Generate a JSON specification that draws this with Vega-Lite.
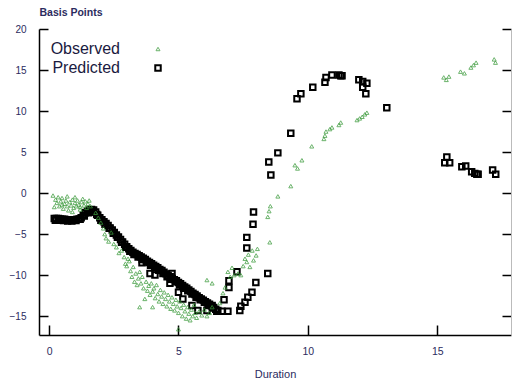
{
  "$schema": "https://vega.github.io/schema/vega-lite/v6.json",
  "width": 472,
  "height": 306,
  "autosize": "none",
  "padding": {"left": 39, "top": 29, "right": 1, "bottom": 45},
  "config": {"view": {"stroke": null}, "font": "Liberation Sans"},
  "datasets": {
    "pts": [
      {"x":0.2,"y":-3.1,"s":"Predicted"},{"x":0.28,"y":-3.1,"s":"Predicted"},{"x":0.36,"y":-3.1,"s":"Predicted"},{"x":0.44,"y":-3.15,"s":"Predicted"},{"x":0.52,"y":-3.2,"s":"Predicted"},{"x":0.6,"y":-3.2,"s":"Predicted"},{"x":0.68,"y":-3.25,"s":"Predicted"},{"x":0.76,"y":-3.25,"s":"Predicted"},{"x":0.84,"y":-3.25,"s":"Predicted"},{"x":0.92,"y":-3.25,"s":"Predicted"},{"x":1.0,"y":-3.25,"s":"Predicted"},{"x":1.08,"y":-3.2,"s":"Predicted"},{"x":1.16,"y":-3.15,"s":"Predicted"},
      {"x":1.24,"y":-3.0,"s":"Predicted"},{"x":1.32,"y":-2.7,"s":"Predicted"},{"x":1.4,"y":-2.4,"s":"Predicted"},{"x":1.48,"y":-2.2,"s":"Predicted"},{"x":1.56,"y":-2.05,"s":"Predicted"},{"x":1.64,"y":-2.0,"s":"Predicted"},{"x":1.72,"y":-2.05,"s":"Predicted"},{"x":1.8,"y":-2.3,"s":"Predicted"},
      {"x":1.88,"y":-2.7,"s":"Predicted"},{"x":1.96,"y":-3.0,"s":"Predicted"},{"x":2.04,"y":-3.25,"s":"Predicted"},{"x":2.12,"y":-3.5,"s":"Predicted"},{"x":2.2,"y":-3.7,"s":"Predicted"},{"x":2.28,"y":-3.95,"s":"Predicted"},{"x":2.36,"y":-4.25,"s":"Predicted"},{"x":2.44,"y":-4.5,"s":"Predicted"},{"x":2.52,"y":-4.8,"s":"Predicted"},{"x":2.6,"y":-5.1,"s":"Predicted"},{"x":2.68,"y":-5.35,"s":"Predicted"},{"x":2.76,"y":-5.65,"s":"Predicted"},{"x":2.84,"y":-5.95,"s":"Predicted"},{"x":2.92,"y":-6.25,"s":"Predicted"},{"x":3.0,"y":-6.55,"s":"Predicted"},{"x":3.08,"y":-6.8,"s":"Predicted"},{"x":3.16,"y":-7.0,"s":"Predicted"},{"x":3.24,"y":-7.2,"s":"Predicted"},{"x":3.32,"y":-7.35,"s":"Predicted"},{"x":3.4,"y":-7.5,"s":"Predicted"},{"x":3.48,"y":-7.65,"s":"Predicted"},{"x":3.56,"y":-7.8,"s":"Predicted"},{"x":3.64,"y":-7.95,"s":"Predicted"},{"x":3.72,"y":-8.1,"s":"Predicted"},{"x":3.8,"y":-8.3,"s":"Predicted"},{"x":3.88,"y":-8.45,"s":"Predicted"},{"x":3.96,"y":-8.6,"s":"Predicted"},{"x":4.04,"y":-8.8,"s":"Predicted"},{"x":4.12,"y":-8.95,"s":"Predicted"},{"x":4.2,"y":-9.1,"s":"Predicted"},{"x":4.28,"y":-9.3,"s":"Predicted"},{"x":4.36,"y":-9.45,"s":"Predicted"},{"x":4.44,"y":-9.65,"s":"Predicted"},{"x":4.52,"y":-9.85,"s":"Predicted"},{"x":4.6,"y":-10.05,"s":"Predicted"},{"x":4.68,"y":-10.2,"s":"Predicted"},{"x":4.76,"y":-10.4,"s":"Predicted"},{"x":4.84,"y":-10.55,"s":"Predicted"},{"x":4.92,"y":-10.7,"s":"Predicted"},{"x":5.0,"y":-10.9,"s":"Predicted"},{"x":5.08,"y":-11.05,"s":"Predicted"},{"x":5.16,"y":-11.25,"s":"Predicted"},{"x":5.24,"y":-11.45,"s":"Predicted"},{"x":5.32,"y":-11.6,"s":"Predicted"},{"x":5.4,"y":-11.8,"s":"Predicted"},{"x":5.48,"y":-12.0,"s":"Predicted"},{"x":5.56,"y":-12.2,"s":"Predicted"},{"x":5.64,"y":-12.35,"s":"Predicted"},{"x":5.72,"y":-12.55,"s":"Predicted"},{"x":5.8,"y":-12.75,"s":"Predicted"},{"x":5.88,"y":-12.9,"s":"Predicted"},{"x":5.96,"y":-13.05,"s":"Predicted"},{"x":6.04,"y":-13.25,"s":"Predicted"},{"x":6.12,"y":-13.4,"s":"Predicted"},{"x":6.2,"y":-13.55,"s":"Predicted"},{"x":6.28,"y":-13.75,"s":"Predicted"},{"x":6.36,"y":-13.95,"s":"Predicted"},{"x":6.44,"y":-14.15,"s":"Predicted"},{"x":6.52,"y":-14.3,"s":"Predicted"},
      {"x":0.24,"y":-3.3,"s":"Predicted"},{"x":0.4,"y":-3.3,"s":"Predicted"},{"x":0.56,"y":-3.35,"s":"Predicted"},{"x":0.72,"y":-3.4,"s":"Predicted"},{"x":0.88,"y":-3.4,"s":"Predicted"},{"x":1.04,"y":-3.35,"s":"Predicted"},{"x":1.2,"y":-3.2,"s":"Predicted"},{"x":1.36,"y":-2.8,"s":"Predicted"},{"x":1.52,"y":-2.4,"s":"Predicted"},{"x":1.68,"y":-2.3,"s":"Predicted"},{"x":1.84,"y":-2.6,"s":"Predicted"},{"x":2.0,"y":-3.3,"s":"Predicted"},{"x":2.16,"y":-3.8,"s":"Predicted"},{"x":2.32,"y":-4.3,"s":"Predicted"},{"x":2.48,"y":-4.9,"s":"Predicted"},{"x":2.64,"y":-5.4,"s":"Predicted"},{"x":2.8,"y":-6.0,"s":"Predicted"},{"x":2.96,"y":-6.6,"s":"Predicted"},{"x":3.12,"y":-7.1,"s":"Predicted"},{"x":3.28,"y":-7.5,"s":"Predicted"},{"x":3.44,"y":-7.8,"s":"Predicted"},{"x":3.6,"y":-8.1,"s":"Predicted"},{"x":3.76,"y":-8.4,"s":"Predicted"},{"x":3.92,"y":-8.8,"s":"Predicted"},{"x":4.08,"y":-9.1,"s":"Predicted"},{"x":4.24,"y":-9.4,"s":"Predicted"},{"x":4.4,"y":-9.8,"s":"Predicted"},{"x":4.56,"y":-10.2,"s":"Predicted"},{"x":4.72,"y":-10.5,"s":"Predicted"},{"x":4.88,"y":-10.8,"s":"Predicted"},{"x":5.04,"y":-11.2,"s":"Predicted"},{"x":5.2,"y":-11.6,"s":"Predicted"},{"x":5.36,"y":-11.9,"s":"Predicted"},{"x":5.52,"y":-12.3,"s":"Predicted"},{"x":5.68,"y":-12.7,"s":"Predicted"},{"x":5.84,"y":-13.0,"s":"Predicted"},{"x":6.0,"y":-13.3,"s":"Predicted"},{"x":6.16,"y":-13.7,"s":"Predicted"},{"x":6.32,"y":-14.0,"s":"Predicted"},{"x":6.48,"y":-14.4,"s":"Predicted"},
      {"x":3.59,"y":-8.5,"s":"Predicted"},{"x":3.9,"y":-9.8,"s":"Predicted"},{"x":4.09,"y":-10.0,"s":"Predicted"},{"x":4.75,"y":-9.8,"s":"Predicted"},{"x":4.67,"y":-11.0,"s":"Predicted"},{"x":5.0,"y":-12.1,"s":"Predicted"},{"x":5.17,"y":-12.9,"s":"Predicted"},{"x":5.52,"y":-13.7,"s":"Predicted"},{"x":5.75,"y":-14.3,"s":"Predicted"},{"x":6.1,"y":-14.3,"s":"Predicted"},{"x":6.3,"y":-13.7,"s":"Predicted"},{"x":6.68,"y":-14.4,"s":"Predicted"},{"x":6.91,"y":-14.4,"s":"Predicted"},{"x":6.76,"y":-13.0,"s":"Predicted"},{"x":6.95,"y":-11.5,"s":"Predicted"},{"x":6.95,"y":-10.7,"s":"Predicted"},{"x":7.26,"y":-9.6,"s":"Predicted"},{"x":7.37,"y":-14.3,"s":"Predicted"},{"x":7.41,"y":-13.8,"s":"Predicted"},{"x":7.57,"y":-13.3,"s":"Predicted"},{"x":7.68,"y":-12.7,"s":"Predicted"},{"x":7.84,"y":-12.1,"s":"Predicted"},{"x":7.99,"y":-10.9,"s":"Predicted"},{"x":7.64,"y":-6.7,"s":"Predicted"},{"x":7.64,"y":-5.4,"s":"Predicted"},{"x":7.88,"y":-3.8,"s":"Predicted"},{"x":7.9,"y":-2.3,"s":"Predicted"},{"x":8.45,"y":-9.8,"s":"Predicted"},
      {"x":8.57,"y":2.2,"s":"Predicted"},{"x":8.49,"y":3.8,"s":"Predicted"},{"x":8.84,"y":4.9,"s":"Predicted"},{"x":9.34,"y":7.3,"s":"Predicted"},{"x":9.58,"y":11.5,"s":"Predicted"},{"x":9.73,"y":12.1,"s":"Predicted"},{"x":10.19,"y":12.9,"s":"Predicted"},{"x":10.66,"y":13.5,"s":"Predicted"},{"x":10.7,"y":14.1,"s":"Predicted"},{"x":10.93,"y":14.4,"s":"Predicted"},{"x":11.2,"y":14.4,"s":"Predicted"},{"x":11.27,"y":14.3,"s":"Predicted"},{"x":11.32,"y":14.3,"s":"Predicted"},{"x":11.97,"y":13.8,"s":"Predicted"},{"x":12.12,"y":13.6,"s":"Predicted"},{"x":12.28,"y":13.4,"s":"Predicted"},{"x":12.12,"y":12.9,"s":"Predicted"},{"x":12.24,"y":12.1,"s":"Predicted"},{"x":13.05,"y":10.4,"s":"Predicted"},
      {"x":15.37,"y":4.4,"s":"Predicted"},{"x":15.29,"y":3.7,"s":"Predicted"},{"x":15.48,"y":3.7,"s":"Predicted"},{"x":15.95,"y":3.2,"s":"Predicted"},{"x":16.1,"y":3.3,"s":"Predicted"},{"x":16.33,"y":2.6,"s":"Predicted"},{"x":16.45,"y":2.4,"s":"Predicted"},{"x":16.53,"y":2.3,"s":"Predicted"},{"x":16.58,"y":2.3,"s":"Predicted"},{"x":17.14,"y":2.8,"s":"Predicted"},{"x":17.26,"y":2.3,"s":"Predicted"},
      {"x":0.15,"y":-0.3,"s":"Observed"},{"x":0.25,"y":-0.8,"s":"Observed"},{"x":0.3,"y":-1.2,"s":"Observed"},{"x":0.35,"y":-0.5,"s":"Observed"},{"x":0.4,"y":-1.6,"s":"Observed"},{"x":0.45,"y":-1.0,"s":"Observed"},{"x":0.5,"y":-0.6,"s":"Observed"},{"x":0.55,"y":-1.9,"s":"Observed"},{"x":0.6,"y":-1.3,"s":"Observed"},{"x":0.65,"y":-0.9,"s":"Observed"},{"x":0.7,"y":-1.6,"s":"Observed"},{"x":0.75,"y":-2.1,"s":"Observed"},{"x":0.8,"y":-1.1,"s":"Observed"},{"x":0.85,"y":-1.5,"s":"Observed"},{"x":0.9,"y":-0.8,"s":"Observed"},{"x":0.95,"y":-1.8,"s":"Observed"},{"x":1.0,"y":-1.2,"s":"Observed"},{"x":1.05,"y":-1.6,"s":"Observed"},{"x":1.1,"y":-0.9,"s":"Observed"},{"x":1.15,"y":-1.4,"s":"Observed"},{"x":1.2,"y":-2.0,"s":"Observed"},{"x":1.25,"y":-1.1,"s":"Observed"},{"x":1.3,"y":-0.7,"s":"Observed"},{"x":1.35,"y":-1.5,"s":"Observed"},{"x":1.4,"y":-1.0,"s":"Observed"},{"x":1.45,"y":-1.8,"s":"Observed"},{"x":1.5,"y":-1.3,"s":"Observed"},{"x":1.55,"y":-0.9,"s":"Observed"},{"x":1.6,"y":-1.6,"s":"Observed"},{"x":0.2,"y":-1.7,"s":"Observed"},{"x":0.5,"y":-1.4,"s":"Observed"},{"x":0.9,"y":-2.3,"s":"Observed"},{"x":1.0,"y":-0.5,"s":"Observed"},{"x":1.2,"y":-1.7,"s":"Observed"},{"x":0.7,"y":-0.4,"s":"Observed"},
      {"x":1.8,"y":-2.4,"s":"Observed"},{"x":1.9,"y":-3.0,"s":"Observed"},{"x":2.0,"y":-3.6,"s":"Observed"},{"x":2.1,"y":-4.3,"s":"Observed"},{"x":2.15,"y":-5.0,"s":"Observed"},{"x":2.2,"y":-5.5,"s":"Observed"},{"x":2.3,"y":-5.9,"s":"Observed"},{"x":2.4,"y":-4.8,"s":"Observed"},{"x":2.5,"y":-6.2,"s":"Observed"},{"x":2.6,"y":-6.6,"s":"Observed"},{"x":2.7,"y":-7.3,"s":"Observed"},{"x":2.8,"y":-7.0,"s":"Observed"},{"x":2.9,"y":-7.8,"s":"Observed"},{"x":2.95,"y":-8.6,"s":"Observed"},{"x":3.0,"y":-8.9,"s":"Observed"},{"x":3.05,"y":-8.0,"s":"Observed"},
      {"x":3.1,"y":-8.3,"s":"Observed"},{"x":3.15,"y":-9.5,"s":"Observed"},{"x":3.2,"y":-10.2,"s":"Observed"},{"x":3.25,"y":-9.0,"s":"Observed"},{"x":3.3,"y":-10.8,"s":"Observed"},{"x":3.35,"y":-9.8,"s":"Observed"},{"x":3.4,"y":-11.2,"s":"Observed"},{"x":3.45,"y":-10.4,"s":"Observed"},{"x":3.5,"y":-9.6,"s":"Observed"},{"x":3.5,"y":-13.9,"s":"Observed"},{"x":3.55,"y":-11.0,"s":"Observed"},{"x":3.6,"y":-10.2,"s":"Observed"},{"x":3.65,"y":-11.6,"s":"Observed"},{"x":3.7,"y":-12.9,"s":"Observed"},{"x":3.75,"y":-10.8,"s":"Observed"},{"x":3.8,"y":-11.9,"s":"Observed"},{"x":3.85,"y":-11.3,"s":"Observed"},{"x":3.9,"y":-12.4,"s":"Observed"},{"x":3.95,"y":-11.0,"s":"Observed"},{"x":4.0,"y":-13.9,"s":"Observed"},{"x":4.0,"y":-12.0,"s":"Observed"},{"x":4.05,"y":-11.6,"s":"Observed"},{"x":4.1,"y":-12.8,"s":"Observed"},{"x":4.15,"y":-11.2,"s":"Observed"},{"x":4.2,"y":-12.3,"s":"Observed"},{"x":4.25,"y":-13.2,"s":"Observed"},{"x":4.3,"y":-11.8,"s":"Observed"},{"x":4.35,"y":-12.6,"s":"Observed"},{"x":4.4,"y":-13.5,"s":"Observed"},{"x":4.45,"y":-12.1,"s":"Observed"},{"x":4.5,"y":-12.9,"s":"Observed"},{"x":4.55,"y":-13.8,"s":"Observed"},{"x":4.6,"y":-12.4,"s":"Observed"},{"x":4.65,"y":-13.2,"s":"Observed"},{"x":4.7,"y":-14.1,"s":"Observed"},{"x":4.75,"y":-12.7,"s":"Observed"},{"x":4.8,"y":-13.5,"s":"Observed"},{"x":4.85,"y":-14.3,"s":"Observed"},{"x":4.9,"y":-13.0,"s":"Observed"},{"x":4.95,"y":-13.8,"s":"Observed"},{"x":5.0,"y":-14.6,"s":"Observed"},{"x":5.05,"y":-13.2,"s":"Observed"},{"x":5.1,"y":-14.0,"s":"Observed"},{"x":5.15,"y":-15.0,"s":"Observed"},{"x":5.2,"y":-13.6,"s":"Observed"},{"x":5.25,"y":-14.4,"s":"Observed"},{"x":5.3,"y":-15.3,"s":"Observed"},{"x":5.35,"y":-13.9,"s":"Observed"},{"x":5.4,"y":-14.7,"s":"Observed"},{"x":5.45,"y":-15.5,"s":"Observed"},{"x":5.5,"y":-14.2,"s":"Observed"},{"x":5.55,"y":-15.0,"s":"Observed"},{"x":5.6,"y":-13.6,"s":"Observed"},{"x":5.65,"y":-14.6,"s":"Observed"},{"x":5.7,"y":-15.2,"s":"Observed"},{"x":5.8,"y":-14.4,"s":"Observed"},{"x":5.9,"y":-14.9,"s":"Observed"},{"x":6.0,"y":-14.2,"s":"Observed"},{"x":6.1,"y":-15.0,"s":"Observed"},{"x":6.2,"y":-14.6,"s":"Observed"},{"x":6.3,"y":-13.9,"s":"Observed"},{"x":5.0,"y":-16.6,"s":"Observed"},{"x":6.1,"y":-10.6,"s":"Observed"},{"x":6.3,"y":-11.0,"s":"Observed"},
      {"x":6.6,"y":-13.4,"s":"Observed"},{"x":6.72,"y":-12.2,"s":"Observed"},{"x":6.8,"y":-11.5,"s":"Observed"},{"x":6.91,"y":-9.6,"s":"Observed"},{"x":7.0,"y":-10.2,"s":"Observed"},{"x":7.07,"y":-9.1,"s":"Observed"},{"x":7.15,"y":-10.0,"s":"Observed"},{"x":7.3,"y":-9.8,"s":"Observed"},{"x":7.41,"y":-10.0,"s":"Observed"},{"x":7.5,"y":-8.9,"s":"Observed"},{"x":7.57,"y":-8.0,"s":"Observed"},{"x":7.64,"y":-8.4,"s":"Observed"},{"x":7.7,"y":-7.5,"s":"Observed"},{"x":7.76,"y":-9.0,"s":"Observed"},{"x":7.85,"y":-7.0,"s":"Observed"},{"x":7.9,"y":-8.2,"s":"Observed"},{"x":8.0,"y":-7.6,"s":"Observed"},{"x":8.05,"y":-6.8,"s":"Observed"},{"x":8.53,"y":-6.0,"s":"Observed"},{"x":8.45,"y":-2.9,"s":"Observed"},{"x":8.5,"y":-2.2,"s":"Observed"},{"x":8.55,"y":-1.6,"s":"Observed"},{"x":8.84,"y":-0.4,"s":"Observed"},{"x":9.34,"y":0.85,"s":"Observed"},{"x":9.5,"y":3.4,"s":"Observed"},{"x":9.6,"y":3.0,"s":"Observed"},{"x":9.77,"y":4.0,"s":"Observed"},{"x":10.15,"y":5.7,"s":"Observed"},{"x":10.62,"y":6.6,"s":"Observed"},{"x":10.66,"y":7.0,"s":"Observed"},{"x":10.7,"y":7.5,"s":"Observed"},{"x":10.85,"y":7.8,"s":"Observed"},{"x":10.93,"y":8.0,"s":"Observed"},{"x":11.2,"y":8.3,"s":"Observed"},{"x":11.27,"y":8.6,"s":"Observed"},{"x":11.9,"y":8.9,"s":"Observed"},{"x":12.0,"y":9.1,"s":"Observed"},{"x":12.1,"y":9.3,"s":"Observed"},{"x":12.2,"y":9.6,"s":"Observed"},{"x":12.28,"y":9.8,"s":"Observed"},
      {"x":15.25,"y":14.1,"s":"Observed"},{"x":15.35,"y":13.8,"s":"Observed"},{"x":15.45,"y":14.2,"s":"Observed"},{"x":15.9,"y":14.8,"s":"Observed"},{"x":16.05,"y":14.6,"s":"Observed"},{"x":16.3,"y":15.3,"s":"Observed"},{"x":16.4,"y":15.6,"s":"Observed"},{"x":16.5,"y":15.9,"s":"Observed"},{"x":17.2,"y":16.3,"s":"Observed"},{"x":17.25,"y":15.9,"s":"Observed"}
    ]
  },
  "layer": [
    {
      "mark": {"type": "rule", "stroke": "black", "strokeWidth": 1.5},
      "encoding": {
        "y": {
          "datum": 0, "type": "quantitative",
          "scale": {"domain": [-17.3, 20], "nice": false, "zero": false},
          "axis": {
            "orient": "right", "labels": false, "title": null, "grid": false,
            "values": [-15, -10, -5, 0, 5, 10, 15, 20],
            "tickSize": -9, "tickColor": "black", "tickWidth": 1.5,
            "domainColor": "#bbbbbb", "domainWidth": 1
          }
        }
      }
    },
    {
      "data": {"name": "pts"},
      "mark": {"type": "point", "filled": false},
      "encoding": {
        "x": {
          "field": "x", "type": "quantitative",
          "scale": {"domain": [-0.39, 17.85], "nice": false, "zero": false},
          "axis": {
            "values": [0, 5, 10, 15], "grid": false, "title": "Duration",
            "tickSize": -10, "tickColor": "black", "tickWidth": 1.5,
            "domainColor": "black", "domainWidth": 1.5,
            "labelFontSize": 10.5, "labelColor": "#2b2b5e", "labelPadding": 21,
            "titleFontSize": 11, "titleFontWeight": "normal", "titleColor": "#2b2b5e", "titlePadding": 12
          }
        },
        "y": {
          "field": "y", "type": "quantitative",
          "scale": {"domain": [-17.3, 20], "nice": false, "zero": false},
          "axis": {
            "values": [-15, -10, -5, 0, 5, 10, 15, 20], "grid": false,
            "title": "Basis Points", "titleAngle": 0, "titleAlign": "left", "titleBaseline": "alphabetic",
            "titleX": 0, "titleY": -14, "titleFontSize": 10.5, "titleFontWeight": "bold", "titleColor": "#2b2b5e",
            "tickSize": -9, "tickColor": "black", "tickWidth": 1.5,
            "domainColor": "black", "domainWidth": 1.5,
            "labelFontSize": 10, "labelColor": "#2b2b5e", "labelPadding": 22
          }
        },
        "color": {
          "field": "s", "type": "nominal",
          "scale": {"domain": ["Observed", "Predicted"], "range": ["#3a9a3a", "black"]},
          "legend": {
            "orient": "none", "legendX": 111, "legendY": 12, "title": null,
            "labelAlign": "right", "labelOffset": -46, "labelFontSize": 16, "labelColor": "#1a1a40",
            "labelLimit": 300, "rowPadding": 3, "padding": 0
          }
        },
        "shape": {
          "field": "s", "type": "nominal",
          "scale": {"domain": ["Observed", "Predicted"], "range": ["triangle-up", "square"]}
        },
        "size": {
          "field": "s", "type": "nominal",
          "scale": {"domain": ["Observed", "Predicted"], "range": [16, 30]}
        },
        "strokeWidth": {
          "field": "s", "type": "nominal",
          "scale": {"domain": ["Observed", "Predicted"], "range": [1, 2]}
        },
        "opacity": {
          "field": "s", "type": "nominal",
          "scale": {"domain": ["Observed", "Predicted"], "range": [0.75, 1]}
        }
      }
    }
  ],
  "resolve": {"axis": {"y": "independent"}}
}
